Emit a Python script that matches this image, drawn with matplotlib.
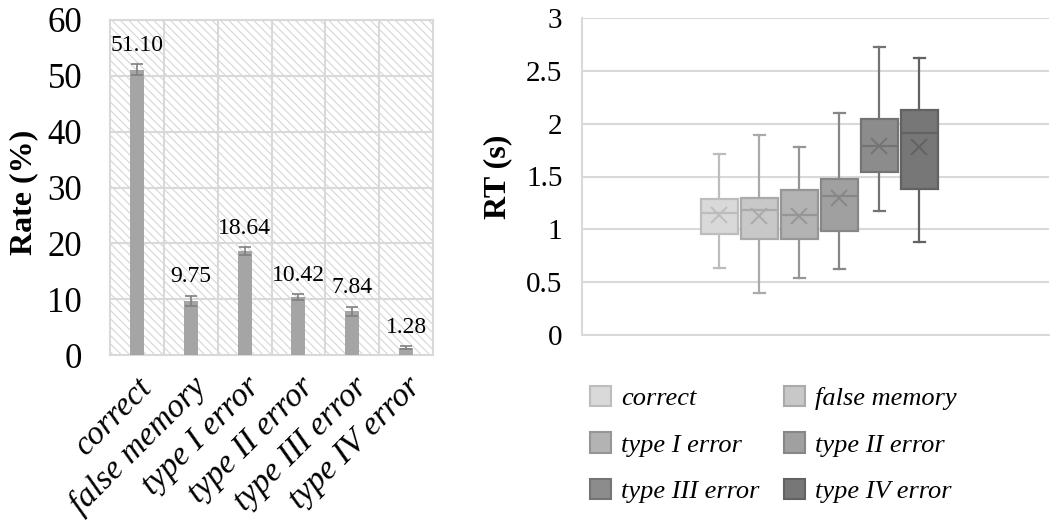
import numpy as np
import matplotlib
matplotlib.use("Agg")
import matplotlib.pyplot as plt
import matplotlib.transforms as mtransforms
from matplotlib.patches import Rectangle, Patch

plt.rcParams["font.family"] = ["Liberation Serif", "DejaVu Serif"]
plt.rcParams["hatch.linewidth"] = 0.8

# Dados
categorias = ["correct", "false memory", "type I error", "type II error",
              "type III error", "type IV error"]
taxas = [51.10, 9.75, 18.64, 10.42, 7.84, 1.28]
erros = [1.0, 0.9, 0.7, 0.5, 0.8, 0.25]

# RT em segundos (boxplot)
rt_min = [0.63, 0.40, 0.54, 0.62, 1.17, 0.88]
rt_q1 = [0.96, 0.91, 0.91, 0.98, 1.54, 1.38]
rt_med = [1.15, 1.18, 1.14, 1.32, 1.79, 1.91]
rt_q3 = [1.29, 1.30, 1.37, 1.48, 2.04, 2.13]
rt_max = [1.71, 1.89, 1.78, 2.10, 2.73, 2.62]
rt_media = [1.14, 1.13, 1.13, 1.30, 1.79, 1.78]

cores_caixa = ["#d9d9d9", "#c8c8c8", "#b3b3b3", "#a0a0a0", "#8c8c8c", "#777777"]
cores_borda = ["#bdbdbd", "#aaaaaa", "#969696", "#878787", "#747474", "#626262"]
cinza_grade = "#d9d9d9"

fig = plt.figure(figsize=(10.5, 5.24), dpi=100)

# Gráfico de barras - taxa
ax1 = fig.add_axes([110 / 1050, 1 - 355 / 524, 323 / 1050, 335 / 524])
ax1.add_patch(Rectangle((0, 0), 1, 1, transform=ax1.transAxes, facecolor="white",
                        edgecolor="#d6d6d6", hatch="\\\\\\\\", linewidth=0, zorder=0))
x = np.arange(len(categorias))
ax1.bar(x, taxas, width=0.26, color="#a5a5a5", zorder=3)
ax1.errorbar(x, taxas, yerr=erros, fmt="none", ecolor="#808080", elinewidth=1.2,
             capsize=4, capthick=1.2, zorder=4)
for xi, v, e in zip(x, taxas, erros):
    ax1.annotate(f"{v:.2f}", (xi, v + e), xytext=(0, 6), textcoords="offset points",
                 ha="center", va="bottom", fontsize=17, zorder=5)
ax1.set_xlim(-0.5, len(categorias) - 0.5)
ax1.set_ylim(0, 60)
ax1.set_yticks(np.arange(0, 61, 10))
ax1.set_xticks(x)
ax1.set_xticklabels(categorias, rotation=45, ha="right", rotation_mode="anchor",
                    fontsize=24, style="italic")
desloc = mtransforms.ScaledTranslation(-6 / 100, -3 / 100, fig.dpi_scale_trans)
for lbl in ax1.get_xticklabels():
    lbl.set_transform(lbl.get_transform() + desloc)
ax1.set_xticks(x[:-1] + 0.5, minor=True)
ax1.grid(True, which="major", axis="y", color=cinza_grade, linewidth=1.5, zorder=1)
ax1.grid(True, which="minor", axis="x", color=cinza_grade, linewidth=1.5, zorder=1)
ax1.set_axisbelow(True)
ax1.tick_params(axis="both", which="both", length=0)
ax1.tick_params(axis="y", labelsize=25, pad=20)
ax1.tick_params(axis="x", pad=12)
for s in ax1.spines.values():
    s.set_color(cinza_grade)
    s.set_linewidth(1.5)
ax1.set_ylabel("Rate (%)", fontsize=23, fontweight="bold")
ax1.yaxis.set_label_coords(-0.222, 0.485)

# Boxplot - RT
ax2 = fig.add_axes([582 / 1050, 1 - 335 / 524, 467 / 1050, 317 / 524])
stats = []
for i in range(len(categorias)):
    stats.append({"label": categorias[i], "whislo": rt_min[i], "q1": rt_q1[i],
                  "med": rt_med[i], "q3": rt_q3[i], "whishi": rt_max[i],
                  "mean": rt_media[i]})
passo = 40 / 467
posicoes = 0.508 + (np.arange(len(categorias)) - 2.5) * passo
bp = ax2.bxp(stats, positions=posicoes, widths=37 / 467, capwidths=11 / 467,
             patch_artist=True, showmeans=True, showfliers=False, manage_ticks=False)
for i in range(len(categorias)):
    bp["boxes"][i].set(facecolor=cores_caixa[i], edgecolor=cores_borda[i], linewidth=1.6, zorder=3)
    bp["medians"][i].set(color=cores_borda[i], linewidth=1.6, zorder=4)
    bp["means"][i].set(marker="x", markeredgecolor=cores_borda[i], markersize=12,
                       markeredgewidth=1.4, zorder=5)
    for w in bp["whiskers"][2 * i:2 * i + 2]:
        w.set(color=cores_borda[i], linewidth=1.6)
    for c in bp["caps"][2 * i:2 * i + 2]:
        c.set(color=cores_borda[i], linewidth=1.6)
ax2.set_xlim(0, 1)
ax2.set_ylim(0, 3)
ax2.set_yticks(np.arange(0, 3.01, 0.5))
ax2.set_yticklabels([f"{t:g}" for t in np.arange(0, 3.01, 0.5)])
ax2.set_xticks([])
ax2.grid(True, axis="y", color=cinza_grade, linewidth=1.5, zorder=0)
ax2.set_axisbelow(True)
ax2.tick_params(axis="y", length=0, labelsize=21, pad=14)
for k in ["top", "right"]:
    ax2.spines[k].set_visible(False)
for k in ["left", "bottom"]:
    ax2.spines[k].set_color(cinza_grade)
    ax2.spines[k].set_linewidth(1.5)
ax2.set_ylabel("RT (s)", fontsize=23, fontweight="bold")
ax2.yaxis.set_label_coords(-0.15, 0.5)

handles = [Patch(facecolor=cores_caixa[i], edgecolor=cores_borda[i], linewidth=1.5)
           for i in range(len(categorias))]
# ordem por linhas (legenda em 2 colunas)
ordem = [0, 2, 4, 1, 3, 5]
fig.legend([handles[i] for i in ordem], [categorias[i] for i in ordem],
           loc="upper left", bbox_to_anchor=(566 / 1050, 1 - 362 / 524), ncol=2,
           frameon=False, prop={"size": 19, "style": "italic"},
           handlelength=0.8, handleheight=0.8, handletextpad=0.4,
           columnspacing=0.9, labelspacing=0.85)

plt.savefig("out.png", dpi=100)
